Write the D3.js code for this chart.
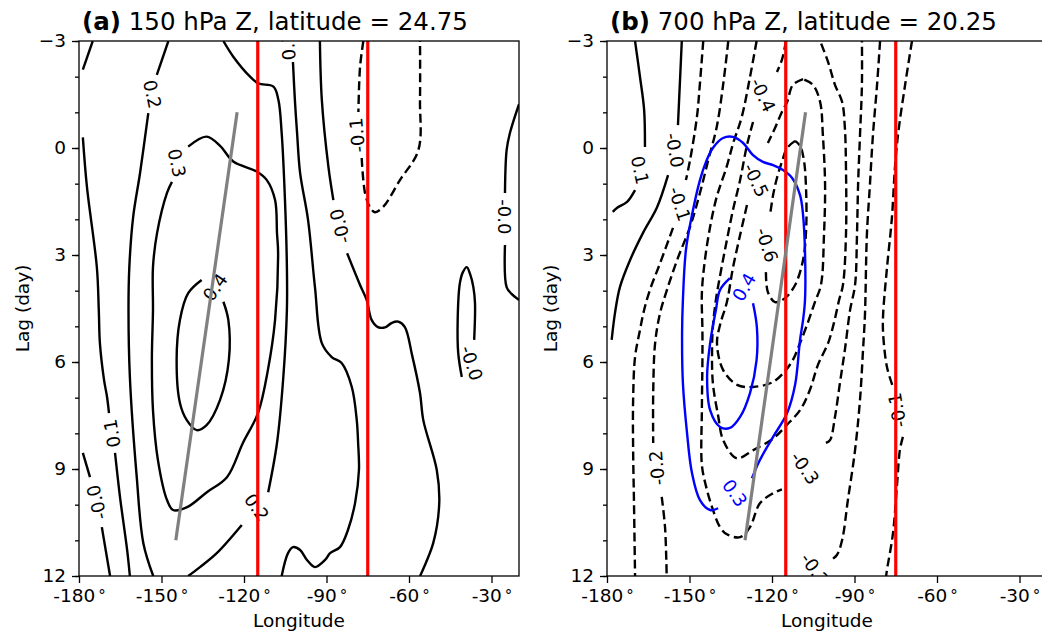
<!DOCTYPE html>
<html>
<head>
<meta charset="utf-8">
<script src="https://d3js.org/d3.v7.min.js"></script>
<style>
body { margin: 0; background: #fff; }
svg { display: block; font-family: "DejaVu Sans", sans-serif; }
</style>
</head>
<body>
<script>
/* axes */
var lonTicks = [-180, -150, -120, -90, -60, -30];
var lagTicks = [-3, 0, 3, 6, 9, 12];
var lagMinor = d3.range(-3, 13, 1);

/* reference lines */
var redLon = [-115, -75];
var grayA = [[-122.5, -1], [-144.8, 11]];
var grayB = [[-107.8, -1], [-129.8, 11]];

/* (a) 150 hPa Z contours, [lon, lag] */
var contoursA = [
	{ level: 0.1, pts: [[-178.6, -2.2], [-175, -3]] },
	{ level: 0.1, pts: [[-178.6, -0.3], [-177.1, 1.1], [-173.5, 3.35], [-172.8, 4.55], [-172.4, 5.47], [-170.9, 6.5], [-169.8, 6.98], [-169.1, 7.43]] },
	{ level: 0.1, pts: [[-166.9, 8.55], [-165.1, 9.78], [-162.5, 11.27], [-161.5, 12]] },
	{ level: 0.1, pts: [[-102.2, -2.41], [-101.5, -1.35], [-100.7, -0.42], [-99.6, 0.7], [-96.7, 2.02], [-94.2, 3.9], [-91.7, 5.47], [-88.1, 5.86], [-84.5, 6.03], [-80.8, 6.7], [-79, 7.63], [-78.5, 8.27], [-78.2, 9.03], [-79.6, 9.95], [-82.2, 10.71], [-85.1, 11.19], [-88.7, 11.36], [-90.5, 11.55], [-94.2, 11.75], [-97.1, 11.55], [-99.6, 11.27], [-102.2, 11.19], [-104, 11.36], [-106.3, 12]] },
	{ level: 0.2, pts: [[-147.5, -3], [-151.7, -2.05]] },
	{ level: 0.2, pts: [[-154.8, -0.98], [-157.8, 0.7], [-160.3, 1.93], [-161.7, 3.34], [-162, 4.54], [-161.5, 6.42], [-159, 9.23], [-156.6, 11.08], [-153, 12]] },
	{ level: 0.2, pts: [[-127.5, -3], [-123.9, -2.56], [-117.8, -2], [-114.8, -1.81], [-109.3, -1.72], [-107.5, -1.35], [-106.3, -0.42], [-105.1, 1.46], [-104.4, 3.34], [-104.4, 4.54], [-105.7, 6.42], [-108, 8.27], [-111.2, 9.65]] },
	{ level: 0.2, pts: [[-120.8, 10.57], [-129.9, 11.36], [-136, 11.75], [-140.3, 12]] },
	{ level: 0.3, pts: [[-140.3, -0.04], [-133.6, -0.32], [-128.7, -0.06], [-123.9, 0.38], [-115.4, 0.66], [-111.7, 0.9], [-108.7, 1.46], [-108, 2.39], [-107.6, 2.94], [-108.7, 4.82], [-111.3, 6.22], [-114.9, 7.43], [-120.4, 8.27], [-126.2, 9.23], [-133.5, 9.65], [-140.7, 10.07], [-145.8, 10.15], [-148, 9.87], [-151.3, 8.75], [-153.1, 7.35], [-153.5, 5.94], [-153.1, 4.54], [-153.1, 3.34], [-151.6, 2.38], [-148, 1.26], [-146.2, 0.95]] },
	{ level: 0.4, pts: [[-127.5, 4.31], [-125.7, 4.82], [-125.5, 5.94], [-128.7, 7.06], [-133.6, 7.77], [-137.2, 7.91], [-140.8, 7.63], [-143.3, 7.15], [-144.5, 5.94], [-143.3, 4.82], [-140.3, 4.07], [-135.4, 3.7]] },
	{ level: 0, pts: [[-92.4, -3], [-91.7, -1.35], [-89.3, 0.53], [-87.5, 1.46]] },
	{ level: 0, pts: [[-82.5, 2.95], [-77.8, 3.84], [-75.4, 4.26], [-73.6, 4.82], [-71.3, 5.02], [-68.7, 5.03], [-66.2, 4.9], [-63.9, 4.87], [-61.5, 5.02], [-58.9, 5.8], [-56, 6.87], [-54.8, 7.63], [-49.9, 9.03], [-49, 9.95], [-51.2, 11.08], [-56, 12]] },
	{ level: 0, pts: [[-178.6, 8.55], [-176, 9.23]] },
	{ level: 0, pts: [[-171.7, 10.63], [-168.7, 12]] },
	{ level: 0, pts: [[-20, -1.23], [-23.3, -0.42], [-24.5, 0.06], [-25.1, 1.26]] },
	{ level: 0, pts: [[-25.1, 2.72], [-24.5, 3.9], [-22.7, 4.09], [-20, 4.26]] },
	{ level: 0, pts: [[-36.3, 5.38], [-36, 4.35], [-36.6, 3.9], [-37.8, 3.53], [-39, 3.34], [-40.4, 3.48], [-41.5, 3.79], [-42.3, 4.82], [-42.1, 5.75], [-40.8, 6.42]] },
	{ level: -0.1, pts: [[-76.6, -3], [-77.8, -2.27], [-78.4, -1.01]] },
	{ level: -0.1, pts: [[-77.2, 0.28], [-76, 1.26], [-74.2, 1.66], [-72.4, 1.8], [-69.5, 1.66], [-63.3, 0.9], [-56.6, 0.06], [-56, -1.35], [-56, -3]] }
];

var labelsA = [
	{ text: "0.1", lon: -168, lag: 8.0, angle: -100 },
	{ text: "0.1", lon: -104, lag: -2.86, angle: -95 },
	{ text: "0.2", lon: -153.3, lag: -1.51, angle: 78 },
	{ text: "0.2", lon: -115.4, lag: 10.07, angle: 55 },
	{ text: "0.3", lon: -144.4, lag: 0.42, angle: 78 },
	{ text: "0.4", lon: -130.5, lag: 3.9, angle: -55 },
	{ text: "-0.0", lon: -85.1, lag: 2.19, angle: -105 },
	{ text: "-0.0", lon: -173.6, lag: 9.93, angle: -104 },
	{ text: "-0.0", lon: -25.1, lag: 1.93, angle: 90 },
	{ text: "-0.0", lon: -37.2, lag: 6.03, angle: 72 },
	{ text: "-0.1", lon: -78.9, lag: -0.36, angle: -95 }
];

/* (b) 700 hPa Z contours, [lon, lag] */
var contoursB = [
	{ level: 0.1, pts: [[-169.8, -3], [-168, -1.99], [-166.5, -1.07], [-166.2, -0.03]] },
	{ level: 0.1, pts: [[-169.8, 1.18], [-172.7, 1.51], [-176.4, 1.68], [-177.9, 1.79]] },
	{ level: 0, pts: [[-152.8, -3], [-153.5, -1.82], [-154.2, -0.64]] },
	{ level: 0, pts: [[-157.8, 0.76], [-161.8, 1.66], [-166.9, 2.38], [-171.6, 3.14], [-175.3, 3.9], [-177.1, 4.63], [-178.3, 5.38]] },
	{ level: -0.1, pts: [[-145, -3], [-146.2, -1.82], [-147.3, -0.87], [-149.8, 0.34], [-151.3, 0.9]] },
	{ level: -0.1, pts: [[-156, 2.24], [-160.7, 3.23], [-164.4, 3.98], [-166.5, 4.54], [-168, 5.1], [-169.8, 5.86], [-170.5, 7.06], [-170.5, 8.47], [-170.2, 9.87], [-169.8, 12]] },
	{ level: -0.1, pts: [[-69.1, -3], [-71.6, -1.77], [-74.2, -0.36], [-75.3, 0.56], [-76.4, 1.96], [-78.2, 3.37], [-79.6, 4.68], [-79.6, 5.19], [-78.2, 6.14], [-76, 6.7]] },
	{ level: -0.1, pts: [[-72.4, 8.1], [-73.5, 8.47], [-74.5, 9.4], [-76, 10.8], [-78.2, 11.83], [-78.5, 12]] },
	{ level: -0.2, pts: [[-135.9, -3], [-137.7, -1.82], [-140.1, -0.59], [-143.2, 0.34], [-146.2, 1.26], [-149.8, 2.21], [-154.5, 3.14], [-158.2, 3.98], [-160.7, 4.63], [-162.5, 5.47], [-163.2, 6.87], [-163.2, 8.27]] },
	{ level: -0.2, pts: [[-160.1, 9.78], [-158.9, 10.63], [-158.3, 12]] },
	{ level: -0.2, pts: [[-80.7, -3], [-81.8, -1.77], [-83.3, -0.36], [-84.4, 1.04], [-85.5, 2.44], [-86.2, 4.68], [-86.9, 5.66], [-88, 7.06], [-89.8, 8.47], [-92.4, 9.87], [-94.5, 10.99], [-96.4, 11.41], [-98.5, 11.55]] },
	{ level: -0.3, pts: [[-125.6, -3], [-128, -1.99], [-131, -0.87], [-134.1, -0.14], [-136.5, 0.53], [-140.1, 1.37], [-142.5, 2.21], [-144.4, 3.14], [-145.5, 4.07], [-145.3, 5.1], [-145.3, 5.94], [-145.5, 7.35], [-145.5, 8.89], [-144, 9.48], [-141.8, 10.07], [-138.9, 10.63], [-136.4, 10.83], [-131.6, 10.91], [-128, 10.63], [-124.4, 9.96], [-119.6, 9.68], [-116.4, 9.57]] },
	{ level: -0.3, pts: [[-100.4, 8.27], [-98.9, 8.19], [-97.1, 7.54], [-95.3, 6.59], [-93.5, 5.66], [-91.6, 4.54], [-89.8, 3.84], [-89.1, 2.44], [-88.7, 1.04], [-88, -0.36], [-87.3, -1.77], [-87.3, -3]] },
	{ level: -0.4, pts: [[-114.9, -3], [-116.4, -2.47], [-118.2, -2.13]] },
	{ level: -0.4, pts: [[-126.9, -0.73], [-129.1, -0.08], [-131.6, 0.9], [-134.2, 1.74], [-136.4, 2.58], [-138.5, 3.42], [-140.4, 4.26], [-141.5, 5.02], [-141.8, 5.66], [-141.5, 6.59], [-139.6, 7.5], [-137.7, 8.2], [-132.8, 8.7], [-126.8, 8.47], [-119.5, 8.14], [-114.7, 7.77], [-109.8, 7.35], [-106.2, 6.78], [-103.3, 6.08], [-99.6, 5.47], [-97.5, 4.91], [-95.6, 4.26], [-94.2, 3.84], [-93.1, 2.44], [-93.1, 0.56], [-93.5, -0.56], [-94.5, -1.29], [-97.1, -1.77], [-99.6, -2.41], [-102.5, -3]] },
	{ level: -0.5, pts: [[-108.7, -1.93], [-112.4, -1.77], [-114.5, -1.29], [-116.4, -1.01], [-118.9, -0.56], [-121.5, -0.14]] },
	{ level: -0.5, pts: [[-129.1, 1.6], [-131.6, 2.44], [-134.2, 3.36], [-136.4, 4.32], [-138.9, 4.96], [-140, 5.47], [-137.8, 6.22], [-132.7, 6.64], [-126.9, 6.7], [-119.6, 6.56], [-114.9, 6.22], [-112.4, 5.94], [-109.8, 5.47], [-106.9, 4.88], [-104.4, 4.32], [-102.2, 3.84], [-101.1, 2.44], [-100.7, 1.04], [-101.5, -0.36], [-102.5, -1.29], [-105.1, -1.77], [-108.7, -1.93]] },
	{ level: -0.6, pts: [[-111.6, -0.2], [-114.5, 0], [-116.4, 0.39], [-118.2, 0.84], [-119.6, 1.32], [-120.7, 1.88]] },
	{ level: -0.6, pts: [[-122.2, 3.48], [-121.5, 4.04], [-118.9, 4.32], [-115.3, 4.21], [-111.6, 3.84], [-108.7, 3.14], [-107.6, 2.3], [-107.6, 1.18], [-108.4, 0.34], [-109.8, -0.06], [-111.6, -0.2]] }
];

var labelsB = [
	{ text: "0.1", lon: -168, lag: 0.62, angle: 78 },
	{ text: "-0.0", lon: -155.3, lag: 0.06, angle: 80 },
	{ text: "-0.1", lon: -153.5, lag: 1.57, angle: 72 },
	{ text: "-0.1", lon: -74.5, lag: 7.35, angle: -100 },
	{ text: "-0.2", lon: -161.9, lag: 8.97, angle: -95 },
	{ text: "-0.2", lon: -104.4, lag: 11.81, angle: 55 },
	{ text: "-0.3", lon: -108, lag: 8.97, angle: 55 },
	{ text: "-0.4", lon: -123.3, lag: -1.49, angle: 65 },
	{ text: "-0.5", lon: -125.8, lag: 0.9, angle: 65 },
	{ text: "-0.6", lon: -121.8, lag: 2.72, angle: 72 }
];

/* (b) overlaid field, blue */
var blueB = [
	{ level: 0.3, pts: [[-139.6, 10.1], [-142.5, 10.15], [-146.2, 9.87], [-149.1, 9.11], [-150.9, 7.99], [-152.4, 6.59], [-152.7, 5.19], [-152.4, 4.26], [-151.3, 2.86], [-149.1, 1.88], [-146.2, 0.9], [-144, 0.39], [-141.5, 0], [-137.8, -0.28], [-134.2, -0.31], [-130.5, -0.14], [-126.9, 0.2], [-123.3, 0.39], [-119.6, 0.48], [-116, 0.62], [-112.7, 0.84], [-109.8, 1.32], [-108.7, 1.88], [-108, 2.92], [-108, 4.26], [-108.7, 4.82], [-109.8, 5.38], [-111.6, 6.64], [-114.5, 7.43], [-119.6, 8.1], [-124.4, 8.75], [-127.3, 9.26]] },
	{ level: 0.4, pts: [[-126.9, 4.35], [-125.5, 5.02], [-125.6, 5.94], [-128, 6.87], [-131.6, 7.54], [-135.3, 7.85], [-138.9, 7.82], [-142.5, 7.35], [-143.6, 6.42], [-142.5, 5.47], [-140.4, 4.54], [-138.9, 3.98], [-135.3, 3.65]] }
];

var blueLabelsB = [
	{ text: "0.3", lon: -133.5, lag: 9.67, angle: 55 },
	{ text: "0.4", lon: -130.2, lag: 3.9, angle: -60 }
];

var width = 1042,
    height = 633,
    pw = 440,
    ph = 535,
    marginTop = 41;

var svg = d3.select("body").append("svg")
    .attr("width", width)
    .attr("height", height);

svg.append("rect").attr("width", width).attr("height", height).attr("fill", "#fff");

var drawContours = function(plot, line, data, color) {
	plot.append("g")
	    .selectAll("path")
	    .data(data)
	    .enter().append("path")
	        .attr("d", function(d) { return line(d.pts); })
	        .attr("fill", "none")
	        .attr("stroke", color)
	        .attr("stroke-width", 2.4)
	        .attr("stroke-linejoin", "round")
	        .attr("stroke-dasharray", function(d) { return d.level < 0 ? "9,4.5" : null; });
};

var drawLabels = function(plot, x, y, data, color) {
	plot.append("g")
	    .selectAll("text")
	    .data(data)
	    .enter().append("text")
	        .attr("transform", function(d) { return "translate(" + x(d.lon) + "," + y(d.lag) + ") rotate(" + d.angle + ")"; })
	        .attr("text-anchor", "middle")
	        .attr("dy", "0.36em")
	        .attr("font-size", 18)
	        .attr("fill", color)
	        .text(function(d) { return d.text; });
};

var drawPanel = function(opts) {
	var x = d3.scaleLinear().domain([-180, -20]).range([0, pw]);
	var y = d3.scaleLinear().domain([-3, 12]).range([0, ph]);

	var g = svg.append("g")
	    .attr("transform", "translate(" + opts.left + "," + marginTop + ")");

	g.append("clipPath")
	    .attr("id", opts.id)
	    .append("rect")
	        .attr("width", pw)
	        .attr("height", ph);

	var plot = g.append("g").attr("clip-path", "url(#" + opts.id + ")");

	var smooth = d3.line()
	    .x(function(d) { return x(d[0]); })
	    .y(function(d) { return y(d[1]); })
	    .curve(d3.curveCatmullRom.alpha(0.5));

	var straight = d3.line()
	    .x(function(d) { return x(d[0]); })
	    .y(function(d) { return y(d[1]); });

	drawContours(plot, smooth, opts.contours, "#000");
	drawLabels(plot, x, y, opts.labels, "#000");

	if (opts.blue) {
		drawContours(plot, smooth, opts.blue, "#0000ff");
		drawLabels(plot, x, y, opts.blueLabels, "#0000ff");
	}

	plot.selectAll("line.red")
	    .data(redLon)
	    .enter().append("line")
	        .attr("class", "red")
	        .attr("x1", function(d) { return x(d); })
	        .attr("x2", function(d) { return x(d); })
	        .attr("y1", 0)
	        .attr("y2", ph)
	        .attr("stroke", "#ff0000")
	        .attr("stroke-width", 3.2);

	plot.append("path")
	    .attr("d", straight(opts.gray))
	    .attr("fill", "none")
	    .attr("stroke", "#808080")
	    .attr("stroke-width", 3.2);

	/* frame */
	g.append("rect")
	    .attr("width", pw)
	    .attr("height", ph)
	    .attr("fill", "none")
	    .attr("stroke", "#000")
	    .attr("stroke-width", 1.3);

	/* axes */
	var xAxis = g.append("g")
	    .attr("transform", "translate(0," + ph + ")")
	    .call(d3.axisBottom(x)
	        .tickValues(lonTicks)
	        .tickSize(7)
	        .tickPadding(6)
	        .tickFormat(function(d) { return String(d); }));

	xAxis.selectAll(".tick text").each(function() {
		d3.select(this).append("tspan")
		    .attr("dx", 3)
		    .attr("dy", -1)
		    .attr("font-size", 15)
		    .text("°");
	});

	var yAxis = g.append("g")
	    .call(d3.axisLeft(y)
	        .tickValues(lagTicks)
	        .tickSize(7)
	        .tickPadding(6)
	        .tickFormat(d3.format("d")));

	var yMinor = g.append("g")
	    .call(d3.axisLeft(y)
	        .tickValues(lagMinor)
	        .tickSize(4)
	        .tickFormat(""));

	[xAxis, yAxis, yMinor].forEach(function(a) {
		a.select(".domain").remove();
		a.selectAll(".tick line").attr("stroke", "#000").attr("stroke-width", 1.3);
		a.selectAll(".tick text")
		    .attr("fill", "#000")
		    .attr("font-size", 18.5)
		    .attr("font-family", "DejaVu Sans");
	});

	/* axis titles */
	g.append("text")
	    .attr("x", pw / 2)
	    .attr("y", 627 - marginTop)
	    .attr("text-anchor", "middle")
	    .attr("font-size", 18.5)
	    .text("Longitude");

	g.append("text")
	    .attr("transform", "translate(" + (29 - 79) + "," + (ph / 2) + ") rotate(-90)")
	    .attr("text-anchor", "middle")
	    .attr("font-size", 18.5)
	    .text("Lag (day)");

	var title = g.append("text")
	    .attr("x", 3)
	    .attr("y", 30 - marginTop)
	    .attr("font-size", 24.5);
	title.append("tspan").attr("font-weight", "bold").text(opts.tag);
	title.append("tspan").text(" " + opts.title);
};

drawPanel({ id: "clipA", left: 79, contours: contoursA, labels: labelsA, gray: grayA,
            tag: "(a)", title: "150 hPa Z, latitude = 24.75" });

drawPanel({ id: "clipB", left: 607, contours: contoursB, labels: labelsB, gray: grayB,
            blue: blueB, blueLabels: blueLabelsB,
            tag: "(b)", title: "700 hPa Z, latitude = 20.25" });
</script>
</body>
</html>
